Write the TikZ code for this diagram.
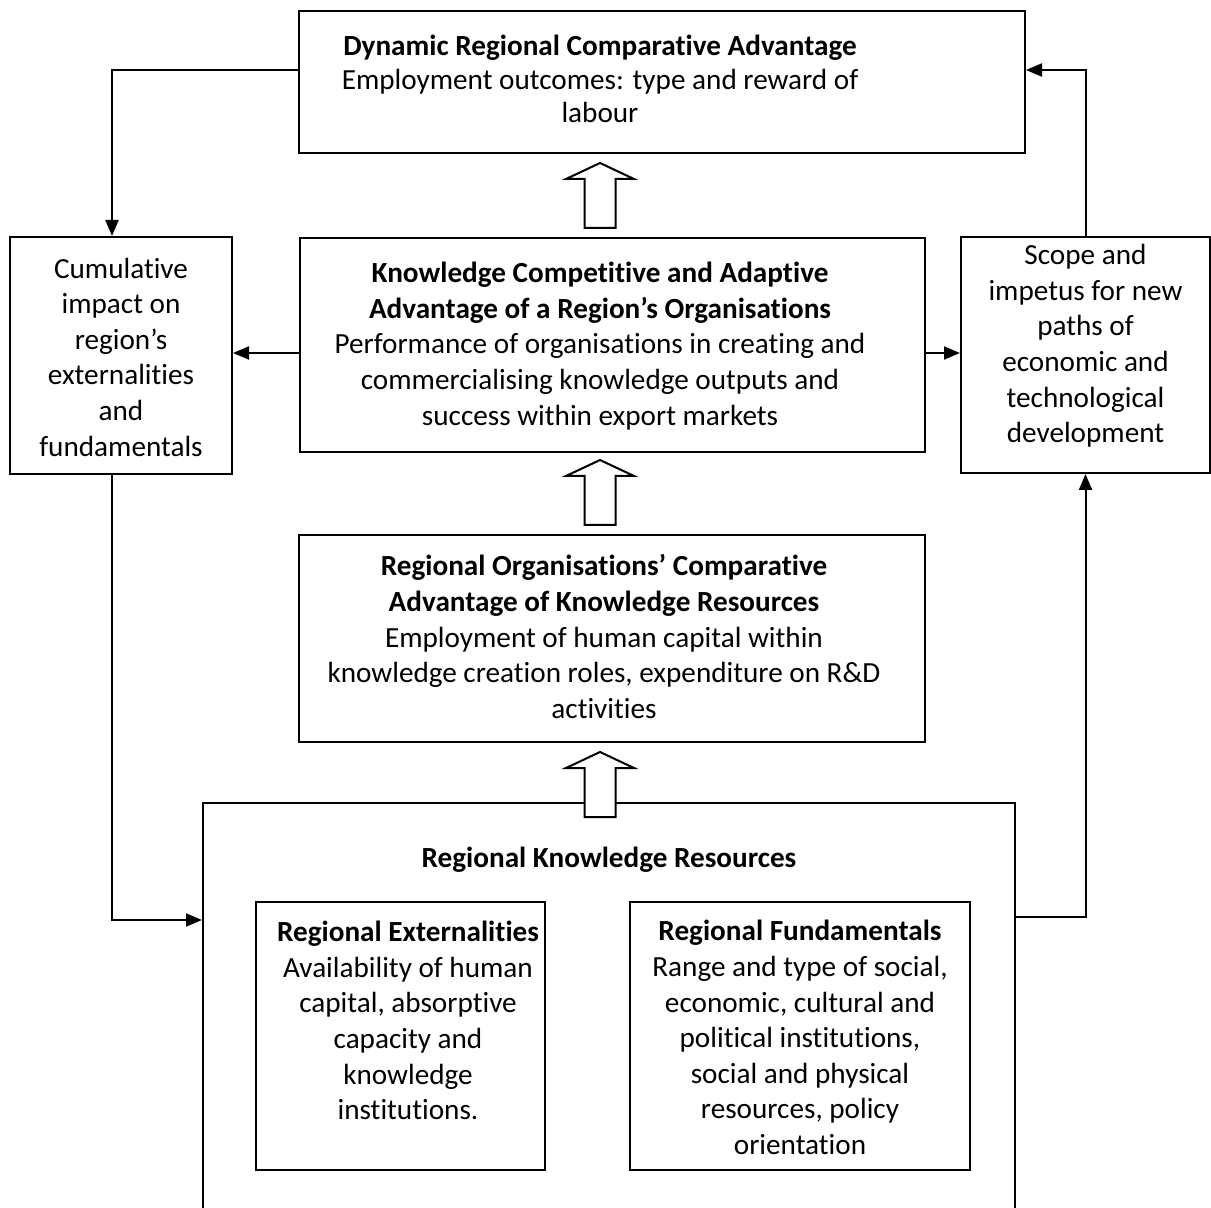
\documentclass[tikz,border=0pt]{standalone}
\usepackage{fontspec}
\setmainfont{Carlito}[Ligatures=NoCommon]
\usetikzlibrary{arrows.meta}
\begin{document}
\begin{tikzpicture}[x=0.5pt,y=-0.5pt,
  box/.style={draw, line width=1pt, rectangle, inner sep=0pt},
  txt/.style={align=center, inner sep=0pt, font=\fontsize{14.6}{17.8}\selectfont},
  txttop/.style={align=center, inner sep=0pt, font=\fontsize{14.6}{16.8}\selectfont},
  conn/.style={line width=1pt, -{Triangle[length=8pt,width=6.5pt]}},
  hollowup/.pic={\draw[line width=1pt, fill=white, line join=miter] (0,0) -- (34,16) -- (15.5,16) -- (15.5,65) -- (-15.5,65) -- (-15.5,16) -- (-34,16) -- cycle;}]
\useasboundingbox (0,0) rectangle (1211,1208);
\clip (0,0) rectangle (1211,1208);
\fill[white] (0,0) rectangle (1211,1208);
% boxes
\node[box, minimum width=363pt, minimum height=71pt] (top) at (662,82) {};
\node[box, minimum width=111pt, minimum height=118.5pt] (left) at (121,355.5) {};
\node[box, minimum width=312.5pt, minimum height=107pt] (mid) at (612.5,345) {};
\node[box, minimum width=124.5pt, minimum height=118pt] (right) at (1085.5,355) {};
\node[box, minimum width=313pt, minimum height=103.5pt] (res) at (612,638.5) {};
\node[box, minimum width=406pt, minimum height=213.5pt] (big) at (609,1016.5) {};
\node[box, minimum width=144.5pt, minimum height=134pt] (ext) at (400.5,1036) {};
\node[box, minimum width=170pt, minimum height=134pt] (fund) at (800,1036) {};
% texts
\node[txttop] (toptxt) at (600,79) {\textbf{Dynamic Regional Comparative Advantage}\\Employment outcomes: type and reward of\\labour};
\node[txt] (lefttxt) at (121,357) {Cumulative\\impact on\\region’s\\externalities\\and\\fundamentals};
\node[txt] (midtxt) at (600,346) {\textbf{Knowledge Competitive and Adaptive}\\\textbf{Advantage of a Region’s Organisations}\\Performance of organisations in creating and\\commercialising knowledge outputs and\\success within export markets};
\node[txt] (righttxt) at (1085.5,346) {Scope and\\impetus for new\\paths of\\economic and\\technological\\development};
\node[txt] (restxt) at (604,636.5) {\textbf{Regional Organisations’ Comparative}\\\textbf{Advantage of Knowledge Resources}\\Employment of human capital within\\knowledge creation roles, expenditure on R\&D\\activities};
\node[txt] (bigtxt) at (609,860) {\textbf{Regional Knowledge Resources}};
\node[txt] (exttxt) at (408,1020.5) {\textbf{Regional Externalities}\\Availability of human\\capital, absorptive\\capacity and\\knowledge\\institutions.};
\node[txt] (fundtxt) at (800,1037.5) {\textbf{Regional Fundamentals}\\Range and type of social,\\economic, cultural and\\political institutions,\\social and physical\\resources, policy\\orientation};
% hollow arrows
\pic at (600,163) {hollowup};
\pic at (600,460) {hollowup};
\pic at (600,752) {hollowup};
% connectors
\draw[conn] ([yshift=6pt]top.west) -| ([xshift=-4.5pt]left.north);
\draw[conn] (right.north) |- ([yshift=6pt]top.east);
\draw[conn] ([yshift=-4pt]mid.west) -- ([yshift=-4pt]mid.west -| left.east);
\draw[conn] ([yshift=-4pt]mid.east) -- ([yshift=-4pt]mid.east -| right.west);
\draw[conn] ([xshift=-4.5pt]left.south) |- ([yshift=48.25pt]big.west);
\draw[conn] ([yshift=49.75pt]big.east) -| (right.south);
\end{tikzpicture}
\end{document}
